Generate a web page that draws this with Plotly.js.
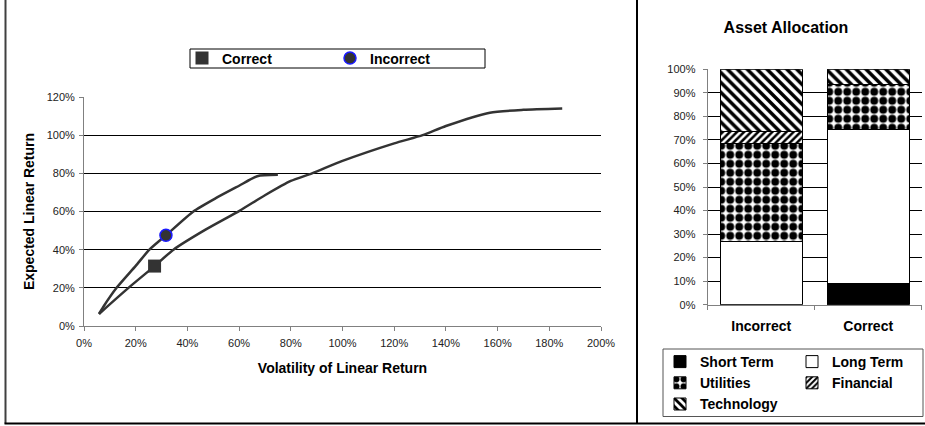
<!DOCTYPE html>
<html><head><meta charset="utf-8">
<script src="https://cdn.plot.ly/plotly-3.0.1.min.js"></script>
<style>html,body{margin:0;padding:0;background:#fff}#chart{width:925px;height:426px}</style>
</head><body><div id="chart"></div>
<script>
// ---- Left chart: frontiers (volatility vs expected return) ----
const incorrectFrontierX = [0.058, 0.075, 0.126, 0.200, 0.253, 0.317, 0.423, 0.510, 0.600, 0.670, 0.750];
const incorrectFrontierY = [0.063, 0.101, 0.200, 0.315, 0.400, 0.475, 0.600, 0.670, 0.735, 0.785, 0.792];
const correctFrontierX = [0.058, 0.080, 0.172, 0.273, 0.346, 0.470, 0.603, 0.700, 0.800, 0.882, 1.000, 1.200, 1.310, 1.400, 1.570, 1.700, 1.850];
const correctFrontierY = [0.063, 0.090, 0.200, 0.314, 0.400, 0.505, 0.605, 0.685, 0.760, 0.800, 0.865, 0.957, 1.000, 1.048, 1.118, 1.133, 1.140];
const correctPointX = [0.273];
const correctPointY = [0.314];
const incorrectPointX = [0.317];
const incorrectPointY = [0.475];

// ---- Right chart: asset allocation ----
const portfolios = ['Incorrect', 'Correct'];
const shortTerm  = [0.000, 0.089];
const longTerm   = [0.267, 0.657];
const utilities  = [0.419, 0.188];
const financial  = [0.050, 0.000];
const technology = [0.264, 0.066];

const W = 925, H = 426;
const px = v => v / W;
const py = v => 1 - v / H;
const FONT = 'Liberation Sans, Arial, Helvetica, sans-serif';
const bold = (size) => ({family: FONT, size: size, color: '#000', weight: 'bold'});
const pat = (shape, size, solidity) => ({shape: shape, fgcolor: '#000', bgcolor: '#fff', fgopacity: 1,
                                         size: size, solidity: solidity, fillmode: 'replace'});

const traces = [
  {x: incorrectFrontierX, y: incorrectFrontierY, mode: 'lines', xaxis: 'x', yaxis: 'y',
   line: {color: '#333', width: 2.5, shape: 'spline', smoothing: 0.6}, showlegend: false, hoverinfo: 'skip'},
  {x: correctFrontierX, y: correctFrontierY, mode: 'lines', xaxis: 'x', yaxis: 'y',
   line: {color: '#333', width: 2.5, shape: 'spline', smoothing: 0.6}, showlegend: false, hoverinfo: 'skip'},
  {x: correctPointX, y: correctPointY, mode: 'markers', name: 'Correct', legend: 'legend',
   marker: {symbol: 'square', size: 13, color: '#333'}},
  {x: incorrectPointX, y: incorrectPointY, mode: 'markers', name: 'Incorrect', legend: 'legend2',
   marker: {symbol: 'circle', size: 12, color: '#333', line: {color: '#1a1aff', width: 1.5}}},
  {type: 'bar', x: portfolios, y: shortTerm, name: 'Short Term', xaxis: 'x2', yaxis: 'y2', legend: 'legend3',
   marker: {color: '#000', line: {color: '#000', width: 1}}},
  {type: 'bar', x: portfolios, y: longTerm, name: 'Long Term', xaxis: 'x2', yaxis: 'y2', legend: 'legend4',
   marker: {color: '#fff', line: {color: '#000', width: 1}}},
  {type: 'bar', x: portfolios, y: utilities, name: 'Utilities', xaxis: 'x2', yaxis: 'y2', legend: 'legend3',
   marker: {color: '#fff', line: {color: '#000', width: 1}, pattern: pat('.', 9, 0.6)}},
  {type: 'bar', x: portfolios, y: financial, name: 'Financial', xaxis: 'x2', yaxis: 'y2', legend: 'legend4',
   marker: {color: '#fff', line: {color: '#000', width: 1}, pattern: pat('/', 5, 0.5)}},
  {type: 'bar', x: portfolios, y: technology, name: 'Technology', xaxis: 'x2', yaxis: 'y2', legend: 'legend3',
   marker: {color: '#fff', line: {color: '#000', width: 1}, pattern: pat('\\', 7, 0.5)}}
];

const tickFont = {family: FONT, size: 11, color: '#222'};
const legendBase = {bgcolor: 'rgba(0,0,0,0)', borderwidth: 0, font: bold(14), traceorder: 'normal',
                    orientation: 'v', xanchor: 'left'};

const layout = {
  width: W, height: H,
  margin: {l: 0, r: 0, t: 0, b: 0},
  paper_bgcolor: '#fff', plot_bgcolor: '#fff',
  font: {family: FONT},
  barmode: 'stack', bargap: 0.23,
  title: {text: 'Asset Allocation', font: bold(16), x: px(786), y: py(27), xref: 'paper', yref: 'paper',
          xanchor: 'center', yanchor: 'middle'},
  xaxis: {domain: [px(84), px(601)], range: [0, 2], dtick: 0.2, tick0: 0, tickformat: '.0%', anchor: 'y',
          ticks: 'outside', ticklen: 4, tickcolor: '#808080', showline: true, linecolor: '#808080', linewidth: 1,
          showgrid: false, zeroline: false, tickfont: tickFont, fixedrange: true, ticklabelstandoff: 3,
          title: {text: 'Volatility of Linear Return', font: bold(14), standoff: 14}},
  yaxis: {domain: [py(326), py(97)], range: [0, 1.2], dtick: 0.2, tick0: 0, tickformat: '.0%', anchor: 'x',
          ticks: 'outside', ticklen: 4, tickcolor: '#808080', showline: true, linecolor: '#808080', linewidth: 1,
          showgrid: true, gridcolor: '#000', gridwidth: 1, zeroline: false, tickfont: tickFont, fixedrange: true,
          ticklabelstandoff: 2,
          title: {text: 'Expected Linear Return', font: bold(14), standoff: 8}},
  xaxis2: {domain: [px(707.7), px(921.7)], type: 'category', anchor: 'y2', tickson: 'boundaries',
           ticks: 'outside', ticklen: 4, tickcolor: '#808080', showline: true, linecolor: '#808080', linewidth: 1,
           showgrid: false, zeroline: false, tickfont: bold(14), fixedrange: true, ticklabelstandoff: 8},
  yaxis2: {domain: [py(304.7), py(69.3)], range: [0, 1], dtick: 0.1, tick0: 0, tickformat: '.0%', anchor: 'x2',
           ticks: 'outside', ticklen: 4, tickcolor: '#808080', showline: true, linecolor: '#808080', linewidth: 1,
           showgrid: true, gridcolor: '#000', gridwidth: 1, zeroline: false, tickfont: tickFont, fixedrange: true,
           ticklabelstandoff: 5},
  legend:  Object.assign({}, legendBase, {x: px(182), y: py(58.5), yanchor: 'middle'}),
  legend2: Object.assign({}, legendBase, {x: px(330), y: py(58.5), yanchor: 'middle'}),
  legend3: Object.assign({}, legendBase, {x: px(660), y: py(346), yanchor: 'top'}),
  legend4: Object.assign({}, legendBase, {x: px(792), y: py(346), yanchor: 'top'}),
  shapes: [
    {type: 'line', xref: 'paper', yref: 'paper', x0: px(5.5), x1: px(5.5), y0: py(0), y1: py(423.5), line: {color: '#404040', width: 2}},
    {type: 'line', xref: 'paper', yref: 'paper', x0: px(637), x1: px(637), y0: py(0), y1: py(423.5), line: {color: '#000', width: 2}},
    {type: 'line', xref: 'paper', yref: 'paper', x0: px(4.5), x1: px(925), y0: py(423.5), y1: py(423.5), line: {color: '#000', width: 2}},
    {type: 'rect', xref: 'paper', yref: 'paper', x0: px(190), x1: px(485), y0: py(68), y1: py(49), line: {color: '#000', width: 1}},
    {type: 'rect', xref: 'paper', yref: 'paper', x0: px(663), x1: px(923), y0: py(416.5), y1: py(349), line: {color: '#555', width: 1}}
  ]
};

Plotly.newPlot('chart', traces, layout, {displayModeBar: false, staticPlot: true});
</script>
</body></html>
